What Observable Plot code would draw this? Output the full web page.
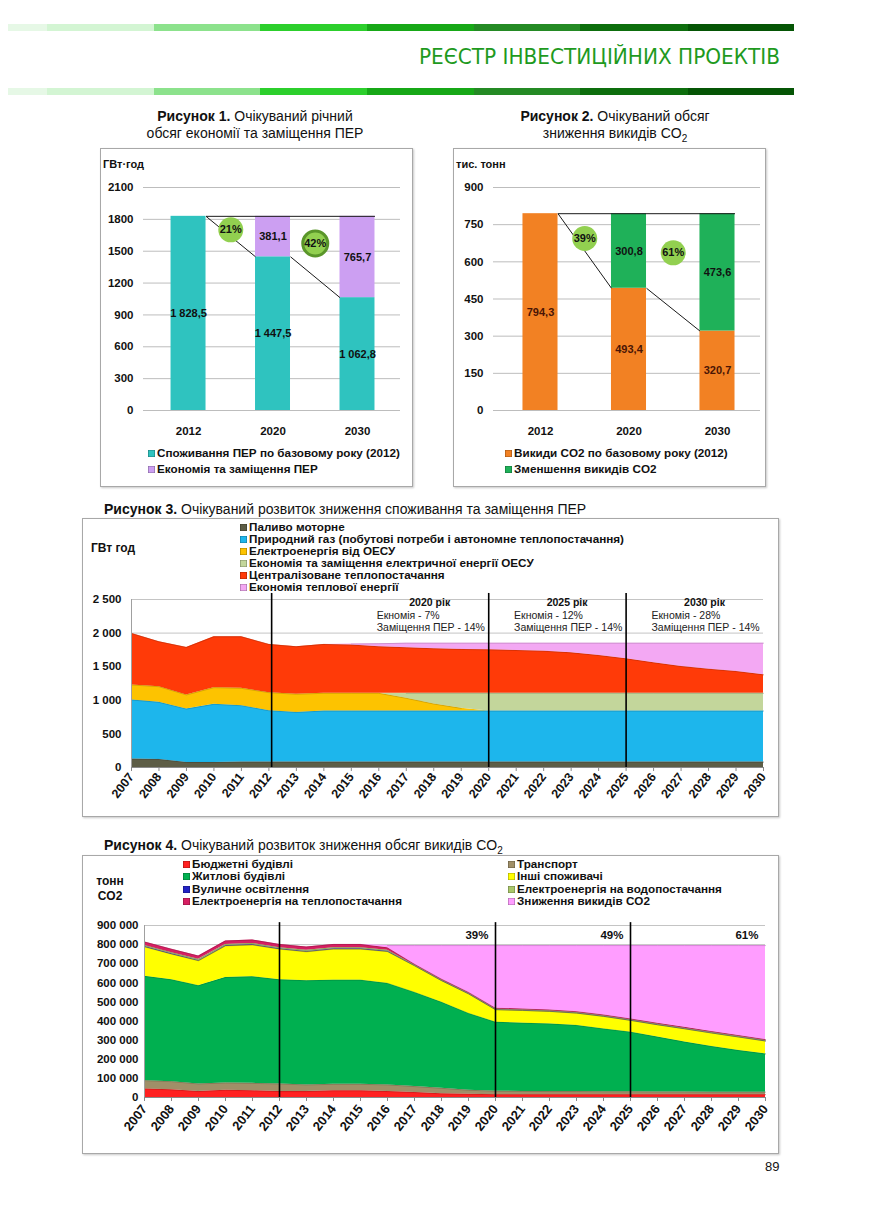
<!DOCTYPE html>
<html><head><meta charset="utf-8">
<script src="https://cdn.jsdelivr.net/npm/d3@7"></script>
<script src="https://cdn.jsdelivr.net/npm/@observablehq/plot@0.6"></script>
<style>
body{margin:0;background:#fff;font-family:"Liberation Sans",Arial,sans-serif;color:#111;}
#page{position:relative;width:869px;height:1228px;overflow:hidden;background:#fff;}
.abs{position:absolute;}
.box{position:absolute;border:1px solid #a8a8a8;box-shadow:1px 1px 2px #c8c8c8;background:#fff;box-sizing:border-box;}
.ftitle{position:absolute;font-size:14px;line-height:17px;white-space:nowrap;}
.leg{position:absolute;font-size:11.7px;font-weight:bold;white-space:nowrap;}
.leg div{height:12px;line-height:12px;}
.sw{display:inline-block;width:7px;height:7px;margin-right:2px;box-shadow:inset 0 0 0 0.6px rgba(0,0,0,0.35);}
.unit{position:absolute;font-size:11px;font-weight:bold;white-space:nowrap;}
[aria-label$="tick label"]{font-weight:bold;}
.plot{position:absolute;}
</style></head>
<body><div id="page"></div>
<script>
// ---------------- DATA ----------------
const stripeColors = ["#e6f8e6","#d3f5d3","#8ce28c","#2ccf2c","#17a817","#248a24","#0d6e0d","#055505"];

const fig1Years = ["2012","2020","2030"];
const fig1Base = [1828.5, 1447.5, 1062.8];
const fig1Saving = [0, 381.1, 765.7];
const fig1Pct = ["21%","42%"];
const fig1Ticks = [0,300,600,900,1200,1500,1800,2100];
const fig1Legend = ["Споживання ПЕР по базовому року (2012)","Економія та заміщення ПЕР"];

const fig2Years = ["2012","2020","2030"];
const fig2Base = [794.3, 493.4, 320.7];
const fig2Saving = [0, 300.8, 473.6];
const fig2Pct = ["39%","61%"];
const fig2Ticks = [0,150,300,450,600,750,900];
const fig2Legend = ["Викиди CO2 по базовому року (2012)","Зменшення викидів CO2"];

const years = [2007,2008,2009,2010,2011,2012,2013,2014,2015,2016,2017,2018,2019,2020,2021,2022,2023,2024,2025,2026,2027,2028,2029,2030];

const f3Names = ["Паливо моторне","Природний газ (побутові потреби і автономне теплопостачання)","Електроенергія від ОЕСУ","Економія та заміщення електричної енергії ОЕСУ","Централізоване теплопостачання","Економія теплової енергії"];
const f3Fuel     = [125,120,75,75,80,80,80,80,80,80,80,80,80,80,80,80,80,80,80,80,80,80,80,80];
const f3Gas      = [880,850,795,865,840,765,740,760,760,760,760,760,760,760,760,760,760,760,760,760,760,760,760,760];
const f3Elec     = [223,233,210,248,258,269,270,264,264,264,190,105,40,0,0,0,0,0,0,0,0,0,0,0];
const f3ElecSave = [0,0,0,0,0,0,0,0,0,0,74,159,224,264,264,264,264,264,264,264,264,264,264,264];
const f3Heat     = [767,668,707,757,767,718,707,728,718,693,678,663,653,647,637,627,602,563,513,454,399,359,325,275];
const f3HeatSave = [0,0,0,0,0,0,0,0,15,45,68,83,93,99,109,119,144,183,233,292,347,387,421,471];
const f3Ticks = [0,500,1000,1500,2000,2500];
const f3Markers = [2012.1,2020,2025];
const f3Notes = [
  {end:2020, title:"2020 рік", l1:"Екномія - 7%",  l2:"Заміщення ПЕР - 14%"},
  {end:2025, title:"2025 рік", l1:"Екномія - 12%", l2:"Заміщення ПЕР - 14%"},
  {end:2030, title:"2030 рік", l1:"Екномія - 28%", l2:"Заміщення ПЕР - 14%"}
];

const f4Names = ["Бюджетні будівлі","Транспорт","Житлові будівлі","Інші споживачі","Вуличне освітлення","Електроенергія на водопостачання","Електроенергія на теплопостачання","Зниження викидів CO2"];
const f4Budget    = [45,40,31,38,35,31,31,35,35,31,26,19,17,15,15,15,15,15,15,15,15,15,15,15];
const f4Transport = [43,43,40,38,39,40,35,34,34,35,31,29,21,18,17,16,16,15,15,14,14,13,13,13];
const f4Housing   = [546,533,514,552,558,545,545,545,545,531,493,450,402,361,357,354,346,329,312,287,261,239,218,200];
const f4Other     = [154,134,130,165,166,160,151,162,162,166,139,113,102,65,66,65,64,65,61,64,69,70,70,67];
const f4Street    = [2,2,2,2,2,2,2,2,2,2,1,1,1,1,1,1,1,1,1,1,1,1,1,1];
const f4Water     = [6,6,6,6,6,6,6,6,6,5,3,3,3,3,3,3,3,3,3,3,3,3,3,3];
const f4HeatEl    = [18,18,17,18,18,17,17,17,17,13,4,4,4,4,4,4,4,4,4,4,4,4,4,4];
const f4Reduction = [0,0,0,0,0,0,0,0,0,12,98,176,245,328,332,337,346,363,384,407,428,450,471,492];
const f4Ticks = [0,100000,200000,300000,400000,500000,600000,700000,800000,900000];
const f4Markers = [2012,2020,2025];
const f4Notes = [{end:2020, t:"39%"},{end:2025, t:"49%"},{end:2030, t:"61%"}];

// ---------------- HELPERS ----------------
const page = document.getElementById("page");
const FONT = '"Liberation Sans", Arial, sans-serif';
function el(tag, cls, css, html){const e=document.createElement(tag); if(cls) e.className=cls; if(css) e.style.cssText=css; if(html!==undefined) e.innerHTML=html; page.appendChild(e); return e;}
const fmtDec = v => d3.format(",.1f")(v).replace(/,/g," ").replace(".",",");
const fmtInt = v => d3.format(",")(v).replace(/,/g," ");
const dark = (c,k) => d3.color(c).darker(k).formatHex();

// ---------------- HEADER ----------------
const stripeX = [8,47,154,260,367,474,580,688,794];
[24,88].forEach(top=>{
  stripeColors.forEach((c,i)=>el("div","abs",`left:${stripeX[i]}px;top:${top}px;width:${stripeX[i+1]-stripeX[i]}px;height:7px;background:${c}`));
});
el("div","abs","left:0;top:0;width:869px;height:80px",
 `<svg width="869" height="80"><text x="419" y="64" textLength="361" lengthAdjust="spacingAndGlyphs" font-family='"Liberation Sans Narrow","DejaVu Sans Condensed",Arial' font-size="22" fill="#1e9a1e">РЕЄСТР ІНВЕСТИЦІЙНИХ ПРОЕКТІВ</text></svg>`);

// ---------------- BAR CHARTS ----------------
function barChart(o){
  const n=o.years.length, idx=d3.range(n), h=o.half;
  const total=o.base[0]+o.saving[0];
  const segs=[];
  for(let i=0;i<n-1;i++) segs.push({x1:i+h,y1:o.base[i],x2:i+1-h,y2:o.base[i+1]});
  segs.push({x1:h,y1:total,x2:n-1+h,y2:total});
  const circles=o.pct.map((p,j)=>({p,x:j+0.5,y:total-o.saving[j+1]/3,ring:j===o.ring}));
  const sIdx=idx.filter(i=>o.saving[i]>0);
  return Plot.plot({
    width:o.width,height:o.height,marginLeft:o.ml,marginRight:o.mr,marginTop:o.mt,marginBottom:o.mb,
    x:{domain:o.xDomain},y:{domain:[0,o.yMax]},
    style:{fontFamily:FONT,fontSize:"11px",color:"#111",background:"transparent",overflow:"visible"},
    marks:[
      Plot.ruleY(o.ticks,{stroke:"#bdbdbd",strokeWidth:1}),
      Plot.rect(idx,{x1:i=>i-h,x2:i=>i+h,y1:i=>0,y2:i=>o.base[i],fill:o.cBase}),
      Plot.rect(sIdx,{x1:i=>i-h,x2:i=>i+h,y1:i=>o.base[i],y2:i=>o.base[i]+o.saving[i],fill:o.cSave}),
      Plot.link(segs,{x1:"x1",y1:"y1",x2:"x2",y2:"y2",stroke:"#1a1a1a",strokeWidth:1}),
      Plot.dot(circles,{x:"x",y:"y",r:12.5,fill:"#92d050"}),
      Plot.dot(circles.filter(c=>c.ring),{x:"x",y:"y",r:12.5,fill:"none",stroke:"#5a962a",strokeWidth:3}),
      Plot.text(circles,{x:"x",y:"y",text:"p",fontWeight:"bold",fontSize:11,fill:"#111"}),
      Plot.text(idx,{x:i=>i,y:i=>o.base[i]/2,text:i=>fmtDec(o.base[i]),fontWeight:"bold",fontSize:11,fill:o.lblColor}),
      Plot.text(sIdx,{x:i=>i,y:i=>o.base[i]+o.saving[i]/2,text:i=>fmtDec(o.saving[i]),fontWeight:"bold",fontSize:11,fill:"#111"}),
      Plot.axisY(o.ticks,{tickSize:0,tickPadding:10,tickFormat:d=>String(d),fontWeight:"bold",fontSize:11.5,label:null}),
      Plot.axisX(idx,{tickSize:0,tickPadding:16,tickFormat:i=>o.years[i],fontWeight:"bold",fontSize:11.5,label:null})
    ]
  });
}
function place(svgEl,left,top){const d=el("div","plot",`left:${left}px;top:${top}px`); d.appendChild(svgEl);}

// Figure 1
el("div","ftitle",`left:100px;top:108px;width:310px;text-align:center`,`<b>Рисунок 1.</b> Очікуваний річний<br>обсяг економії та заміщення ПЕР`);
el("div","box","left:100px;top:148px;width:313px;height:339px");
el("div","unit","left:103px;top:158px","ГВт·год");
place(barChart({years:fig1Years,base:fig1Base,saving:fig1Saving,pct:fig1Pct,ring:1,ticks:fig1Ticks,yMax:2100,
  half:0.207,xDomain:[-0.533,2.509],width:313,height:300,ml:43,mr:13,mt:39,mb:38,
  cBase:"#2fc3bf",cSave:"#cc9ff2",lblColor:"#111"}),100,148);
el("div","leg","left:148px;top:445px;",
  `<div style="height:16px;line-height:16px"><span class="sw" style="background:#2fc3bf"></span>${fig1Legend[0]}</div><div style="height:16px;line-height:16px"><span class="sw" style="background:#cc9ff2"></span>${fig1Legend[1]}</div>`);

// Figure 2
el("div","ftitle",`left:460px;top:108px;width:310px;text-align:center`,`<b>Рисунок 2.</b> Очікуваний обсяг<br>зниження викидів CO<sub style="font-size:10px;line-height:0">2</sub>`);
el("div","box","left:453px;top:148px;width:313px;height:339px");
el("div","unit","left:456px;top:158px","тис. тонн");
place(barChart({years:fig2Years,base:fig2Base,saving:fig2Saving,pct:fig2Pct,ring:-1,ticks:fig2Ticks,yMax:900,
  half:0.198,xDomain:[-0.531,2.486],width:313,height:300,ml:40,mr:6,mt:39,mb:38,
  cBase:"#f28123",cSave:"#1fb159",lblColor:"#4a1505"}),453,148);
el("div","leg","left:505px;top:445px;",
  `<div style="height:16px;line-height:16px"><span class="sw" style="background:#f28123"></span>${fig2Legend[0]}</div><div style="height:16px;line-height:16px"><span class="sw" style="background:#1fb159"></span>${fig2Legend[1]}</div>`);

// ---------------- AREA CHARTS ----------------
function areaChart(o){
  const keys=o.series.map((s,i)=>"s"+i);
  const rows=years.map((y,i)=>{const r={year:y}; o.series.forEach((s,k)=>r[keys[k]]=s.values[i]*o.mult); return r;});
  const st=d3.stack().keys(keys)(rows);
  const marks=[Plot.ruleY(o.ticks.slice(1),{stroke:"#c4c4c4"})];
  st.forEach((layer,k)=>{
    const s=o.series[k];
    marks.push(Plot.areaY(layer,{x:d=>d.data.year,y1:d=>d[0],y2:d=>d[1],fill:s.color,curve:"linear"}));
  });
  st.forEach((layer,k)=>{
    const s=o.series[k];
    marks.push(Plot.line(layer,{x:d=>d.data.year,y:d=>(d[1]-d[0])>0?d[1]:NaN,stroke:dark(s.color,0.9),strokeWidth:0.8,strokeOpacity:0.7}));
  });
  marks.push(
    Plot.ruleY([0],{stroke:"#8a8a8a"}),
    Plot.ruleX([years[0]],{y1:()=>0,y2:()=>o.ticks[o.ticks.length-1],stroke:"#a0a0a0"}),
    Plot.ruleX(o.markers,{y1:()=>0,y2:()=>o.ruleTop,stroke:"#000",strokeWidth:1.6}),
    Plot.axisY(o.ticks,{tickSize:0,tickPadding:o.yPad,tickFormat:fmtInt,fontWeight:"bold",fontSize:o.yFont,label:null}),
    Plot.axisX(years,{tickSize:4,tickPadding:o.xPad,tickRotate:-52,tickFormat:d=>String(d),fontWeight:"bold",fontSize:o.xFont,label:null,stroke:"#888"}),
    ...o.extra
  );
  return Plot.plot({
    width:o.width,height:o.height,marginLeft:o.ml,marginRight:o.mr,marginTop:o.mt,marginBottom:o.mb,
    x:{domain:[years[0],years[years.length-1]]},y:{domain:[0,o.ticks[o.ticks.length-1]]},
    style:{fontFamily:FONT,fontSize:"11px",color:"#111",background:"transparent",overflow:"visible"},
    marks
  });
}

// Figure 3
el("div","ftitle","left:104px;top:501px",`<b>Рисунок 3.</b> Очікуваний розвиток зниження споживання та заміщення ПЕР`);
el("div","box","left:82px;top:518px;width:697px;height:299px");
el("div","unit","left:91px;top:541px;font-size:12px","ГВт год");
const f3Colors=["#5d5d46","#1db6ec","#fdc300","#c3d69b","#ff3a08","#f3a8f3"];
const f3Values=[f3Fuel,f3Gas,f3Elec,f3ElecSave,f3Heat,f3HeatSave];
place(areaChart({
  series:f3Names.map((n,i)=>({name:n,values:f3Values[i],color:f3Colors[i]})),mult:1,
  ticks:f3Ticks,markers:f3Markers,ruleTop:2590,yPad:10,yFont:11.5,xPad:3,xFont:12.5,
  width:697,height:299,ml:49,mr:16,mt:81,mb:50,
  extra:[
    Plot.text(f3Notes,{x:"end",y:()=>2500,text:"title",dx:-59,dy:3,fontWeight:"bold",fontSize:10.5,textAnchor:"middle",fill:"#111"}),
    Plot.text(f3Notes,{x:"end",y:()=>2500,text:"l1",dx:-112,dy:16,fontSize:10.5,textAnchor:"start",fill:"#222"}),
    Plot.text(f3Notes,{x:"end",y:()=>2500,text:"l2",dx:-112,dy:28,fontSize:10.5,textAnchor:"start",fill:"#222"})
  ]
}),82,518);
el("div","leg","left:240px;top:521px",
  f3Names.map((n,i)=>`<div><span class="sw" style="background:${f3Colors[i]}"></span>${n}</div>`).join(""));

// Figure 4
el("div","ftitle","left:104px;top:837px",`<b>Рисунок 4.</b> Очікуваний розвиток зниження обсяг викидів CO<sub style="font-size:10px;line-height:0">2</sub>`);
el("div","box","left:82px;top:855px;width:697px;height:299px");
el("div","unit","left:90px;top:874px;width:40px;text-align:center;line-height:15px;font-size:12px","тонн<br>CO2");
const f4Colors=["#ff2121","#a08f68","#00b050","#ffff00","#2222c4","#a9c76a","#d61f62","#ff9dff"];
const f4Values=[f4Budget,f4Transport,f4Housing,f4Other,f4Street,f4Water,f4HeatEl,f4Reduction];
place(areaChart({
  series:f4Names.map((n,i)=>({name:n,values:f4Values[i],color:f4Colors[i]})),mult:1000,
  ticks:f4Ticks,markers:f4Markers,ruleTop:915000,yPad:6,yFont:11.5,xPad:5,xFont:13,
  width:697,height:299,ml:62,mr:14,mt:70,mb:57,
  extra:[
    Plot.text(f4Notes,{x:"end",y:()=>900000,text:"t",dx:-7,dy:10,fontWeight:"bold",fontSize:11.5,textAnchor:"end",fill:"#111"})
  ]
}),82,855);
const f4Order=[[0,2,4,6],[1,3,5,7]];
f4Order.forEach((col,c)=>{
  el("div","leg",`left:${c===0?183:508}px;top:858px`,
    col.map(i=>`<div style="height:12.3px;line-height:12.3px"><span class="sw" style="background:${f4Colors[i]}"></span>${f4Names[i]}</div>`).join(""));
});

// page number
el("div","abs","left:765px;top:1159px;font-size:13px","89");
</script>
</body></html>
